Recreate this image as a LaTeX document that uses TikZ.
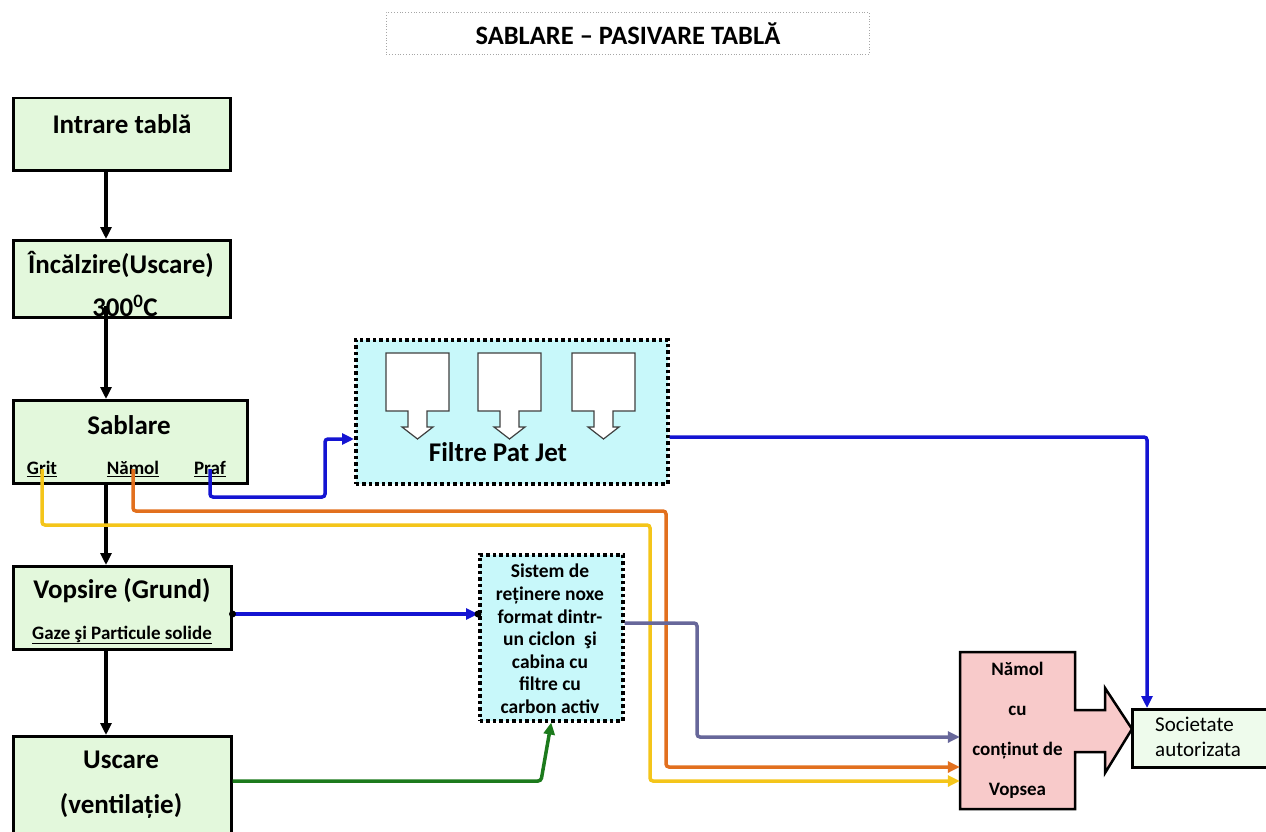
\documentclass[tikz,border=0pt]{standalone}
\usepackage{fontspec}
\setmainfont{Carlito}
\usetikzlibrary{arrows.meta}
\definecolor{stageGreen}{HTML}{E3F8DC}
\definecolor{filterCyan}{HTML}{C8F8FA}
\definecolor{sludgePink}{HTML}{F8CACA}
\definecolor{firmGreen}{HTML}{EEFBEC}
\definecolor{dustBlue}{HTML}{1414D2}
\definecolor{sludgeOrange}{HTML}{E2701E}
\definecolor{gritYellow}{HTML}{F4C51A}
\definecolor{fumeSlate}{HTML}{67679A}
\definecolor{airGreen}{HTML}{1C7A1C}

\begin{document}
\begin{tikzpicture}[x=1pt, y=-1pt, >={Triangle[length=12pt,width=11pt]},
    stage/.style={draw, line width=2.5pt, fill=stageGreen, anchor=north west, inner sep=0pt},
    stagetxt/.style={inner sep=0pt, font=\bfseries\fontsize{27}{31}\selectfont},
    tag/.style={inner sep=0pt, font=\bfseries\fontsize{19}{22}\selectfont},
    dotbox/.style={draw, line width=3.5pt, dash pattern=on 3.5pt off 3pt, fill=filterCyan, anchor=north west, inner sep=0pt},
    bag/.style={draw=black!75, fill=white, line width=1.2pt},
    main/.style={->, line width=3.3pt},
    pipe/.style={->, line width=3.5pt, rounded corners=3pt}]
  \useasboundingbox (0,0) rectangle (1266,832);
  % ---- title
  \node[draw=gray!70, dotted, line width=0.8pt, minimum width=483, minimum height=42, anchor=north west] (ttl) at (386,12) {};
  \node[inner sep=0pt, font=\bfseries\fontsize{26.5}{30}\selectfont] (ttlT) at (ttl.center) {SABLARE -- PASIVARE TABLĂ};
  % ---- process stages
  \node[stage, minimum width=217, minimum height=72] (intr) at (12,97) {};
  \node[stagetxt] (intrT) at (122,124) {Intrare tablă};
  \node[stage, minimum width=217, minimum height=77] (inc) at (12,239) {};
  \node[stagetxt] (incT) at (121,264) {Încălzire(Uscare)};
  \node[stagetxt] (incD) at (125,306) {300\textsuperscript{0}C};
  \node[stage, minimum width=234, minimum height=83] (sab) at (12,399) {};
  \node[stagetxt] (sabT) at (129,425) {Sablare};
  \node[tag] (grit) at (42,469) {\underline{Grit}};
  \node[tag] (namol) at (133,469) {\underline{Nămol}};
  \node[tag] (praf) at (210,469) {\underline{Praf}};
  \node[stage, minimum width=218, minimum height=83] (vops) at (12,565) {};
  \node[stagetxt] (vopsT) at (122,591) {Vopsire (Grund)};
  \node[tag] (gaze) at (122,635) {\underline{Gaze şi Particule solide}};
  \node[stage, minimum width=218, minimum height=120] (usc) at (12,735) {};
  \node[stagetxt] (uscT) at (121,760) {Uscare};
  \node[stagetxt] (uscV) at (121,806) {(ventilație)};
  % ---- filters
  \node[dotbox, minimum width=312, minimum height=144] (filt) at (354,338) {};
  \foreach \fx in {386,478,572} {
    \draw[bag] (\fx,353) -- ({\fx+63},353) -- ({\fx+63},411) -- ({\fx+41},411) -- ({\fx+41},427)
      -- ({\fx+47},427) -- ({\fx+31.5},439) -- ({\fx+16},427) -- ({\fx+22},427) -- ({\fx+22},411)
      -- (\fx,411) -- cycle;
  }
  \node[inner sep=0pt, font=\bfseries\fontsize{27}{30}\selectfont] (filtT) at (498,452) {Filtre Pat Jet};
  \node[dotbox, minimum width=143, minimum height=166] (sist) at (478,553) {};
  \node[inner sep=0pt, align=center, font=\bfseries\fontsize{19.5}{22.6}\selectfont] (sistT) at (550,639)
    {Sistem de\\reținere noxe\\format dintr-\\un ciclon~ şi\\cabina cu\\filtre cu\\carbon activ};
  % ---- sludge and firm
  \path[draw, line width=2.5pt, fill=sludgePink, line join=miter] (960,652) -- (1075,652) -- (1075,710) -- (1105,710)
    -- (1105,688) -- (1132,729) -- (1105,773) -- (1105,752) -- (1075,752) -- (1075,809) -- (960,809) -- cycle;
  \node[minimum width=115, minimum height=157, inner sep=0pt, align=center, font=\bfseries\fontsize{19}{40}\selectfont] (namv) at (1017.5,730.5)
    {Nămol\\cu\\conținut de\\Vopsea};
  \node[draw, line width=2.5pt, fill=firmGreen, minimum width=150, minimum height=58, anchor=north west] (soc) at (1131,708) {};
  \node[inner sep=0pt, align=left, anchor=west, font=\fontsize{21}{25}\selectfont] (socT) at (1155,737) {Societate\\autorizata};
  % ---- main line
  \draw[main] (intr.south -| 106,0) -- (inc.north -| 106,0);
  \draw[main] (incD.center -| 106,0) -- (sab.north -| 106,0);
  \draw[main] (sab.south -| 106,0) -- (vops.north -| 106,0);
  \draw[main] (vops.south -| 106,0) -- (usc.north -| 106,0);
  % ---- streams
  \draw[pipe, dustBlue] (praf.center) |- (325,497) |- (filt.west |- 0,439);
  \draw[pipe, dustBlue] (filt.east |- 0,437) -| ([xshift=16]soc.north west);
  \draw[pipe, sludgeOrange] (namol.center) |- (666,511) |- (namv.west |- 0,767);
  \draw[pipe, gritYellow] (grit.center) |- (650,525) |- (namv.west |- 0,781);
  \draw[pipe, dustBlue] (vops.east |- 0,614) -- (sist.west |- 0,614);
  \fill (vops.east |- 0,614) circle (3.5);
  \fill (sist.west |- 0,614) circle (3.5);
  \draw[pipe, fumeSlate] (sist.east |- 0,623) -| (697,737) -- (namv.west |- 0,737);
  \draw[pipe, airGreen] (usc.east |- 0,781) -- (541,781) -- (sist.south);
\end{tikzpicture}
\end{document}
